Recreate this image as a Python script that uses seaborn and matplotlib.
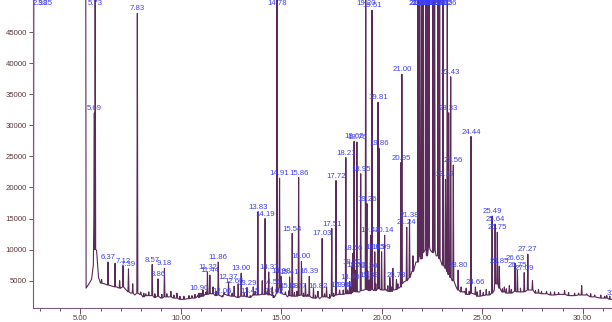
import matplotlib
matplotlib.use("Agg")
import matplotlib.pyplot as plt
import matplotlib.ticker as mticker
import seaborn as sns
import pandas as pd

# ---------------- data ----------------
# labelled peaks: retention time (min), apex abundance, abundance at the foot
peak_t = [2.98, 3.25, 5.69, 5.73, 6.37, 7.12, 7.39, 7.83, 8.57, 8.86, 9.18,
          10.90, 11.32, 11.44, 11.86, 12.06, 12.37, 12.65, 13.00, 13.29, 13.45,
          13.83, 14.19, 14.37, 14.55, 14.62, 14.78, 14.91, 14.98, 15.38, 15.41,
          15.54, 15.77, 15.86, 16.00, 16.39, 16.82, 17.03, 17.51, 17.72, 17.90,
          18.08, 18.21, 18.40, 18.50, 18.56, 18.62, 18.70, 18.76, 18.95, 19.20,
          19.26, 19.30, 19.38, 19.44, 19.51, 19.65, 19.81, 19.86, 19.99, 20.14,
          20.73, 20.95, 21.00, 21.24, 21.38, 21.80, 21.88, 21.97, 22.05, 22.18,
          22.25, 22.35, 22.55, 22.63, 22.80, 22.88, 23.05, 23.17, 23.26, 23.33,
          23.43, 23.56, 23.80, 24.44, 24.66, 25.49, 25.64, 25.75, 25.85, 26.63,
          26.75, 27.09, 27.27, 31.68]
peak_h = [60000, 60000, 32000, 60000, 8000, 7400, 6900, 48000, 7600, 5300, 7000,
          3000, 6400, 5900, 8000, 2600, 4800, 4100, 6200, 3900, 2600,
          16000, 15000, 6400, 4000, 2600, 60000, 21500, 5700, 3400, 5600,
          12600, 3300, 21600, 8100, 5700, 3300, 11800, 13400, 21100, 3500,
          3500, 24800, 4850, 7250, 9400, 27400, 6700, 27300, 22200, 60000,
          17400, 6550, 5100, 12300, 48500, 9650, 33700, 26300, 9650, 12300,
          5200, 24000, 38200, 13600, 14800, 60000, 60000, 60000, 60000, 60000,
          60000, 60000, 60000, 60000, 60000, 60000, 60000, 21300, 60000, 32000,
          37800, 23600, 6700, 28200, 4000, 15400, 14100, 12800, 7350, 7800,
          6700, 6300, 9250, 2200]
peak_base = [60000, 60000, 15000, 10000, 4300, 4000, 3200, 3000, 2600, 2500, 2400,
             2300, 2800, 2900, 2700, 2400, 2600, 2500, 2500, 2400, 2300,
             2700, 2800, 2700, 2600, 2300, 3000, 4000, 3000, 2600, 2600,
             2500, 2500, 2600, 2700, 2500, 2400, 2400, 2600, 2700, 2800,
             2800, 2900, 3000, 3100, 3200, 3300, 3200, 3200, 3400, 3600,
             3600, 3500, 3400, 3500, 3600, 3600, 3700, 3700, 3500, 3500,
             3600, 4000, 4500, 5000, 5500, 8000, 9000, 8500, 9500, 10000,
             9000, 10500, 9500, 10000, 9000, 8500, 7500, 7000, 6500, 6000,
             5500, 5000, 3500, 3000, 2800, 3000, 4500, 4500, 3800, 3300,
             3200, 3200, 3500, 2000]

# unlabelled minor peaks
minor_t = [6.05, 6.72, 6.95, 7.60, 8.00, 8.15, 8.25, 8.40, 8.70, 9.05, 9.30,
           9.50, 9.65, 9.80, 9.95, 10.15, 10.40, 10.55, 10.70, 10.85, 11.00,
           11.10, 11.25, 11.60, 11.75, 12.15, 12.55, 12.85, 13.15, 13.60, 13.70,
           14.05, 14.30, 15.20, 15.65, 16.10, 16.20, 16.30, 16.60, 16.70, 17.15,
           17.25, 17.40, 17.60, 18.30, 18.45, 19.70, 20.30, 20.40, 20.50, 20.55,
           20.80, 21.55, 23.95, 24.10, 24.20, 24.35, 24.75, 24.90, 25.05, 25.20,
           25.35, 26.00, 26.10, 26.20, 26.35, 26.45, 26.90, 27.50, 27.65, 27.80,
           27.95, 28.20, 28.40, 28.60, 28.80, 29.10, 29.30, 29.60, 29.80, 29.95,
           30.20, 30.40, 30.60, 30.90, 31.10, 31.20, 31.35]
minor_h = [5200, 7800, 5000, 4500, 3200, 3000, 2900, 3200, 2900, 2800, 2900,
           3300, 2700, 3000, 2500, 2500, 2600, 2600, 2800, 2700, 3000,
           3500, 3200, 4000, 3300, 3100, 3000, 4500, 3000, 4000, 3300,
           5000, 3300, 3200, 3100, 3000, 4500, 2800, 3800, 2700, 2900,
           4000, 2800, 3000, 3500, 4000, 4500, 4200, 5500, 4000, 7000,
           4500, 9000, 4000, 3300, 3800, 3300, 3200, 3500, 3100, 3600,
           3300, 3700, 4000, 3700, 4200, 3600, 3800, 5000, 3400, 3600,
           3300, 3300, 3200, 3200, 3100, 3400, 3100, 3000, 3000, 4200,
           2900, 2900, 2700, 2700, 2500, 2600, 2500]

# baseline / envelope of the trace
base_t = [2.66, 2.68, 5.26, 5.28, 5.40, 5.55, 5.64, 5.80, 5.90, 6.00, 6.20, 6.50,
          6.80, 7.00, 7.25, 7.50, 7.70, 7.95, 8.10, 8.30, 8.70, 9.00, 9.40, 9.70,
          10.00, 10.30, 10.60, 11.00, 11.20, 11.50, 11.70, 12.00, 12.20, 12.50,
          12.80, 13.20, 13.60, 14.00, 14.40, 14.70, 15.10, 15.30, 15.70, 16.10,
          16.50, 16.70, 16.90, 17.20, 17.40, 17.60, 17.85, 18.10, 18.35, 18.90,
          19.10, 19.60, 20.20, 20.40, 20.60, 20.85, 21.10, 21.50, 21.70, 22.00,
          22.40, 22.70, 23.00, 23.50, 23.70, 24.00, 24.30, 24.55, 24.80, 25.00,
          25.30, 25.60, 26.00, 26.30, 26.90, 27.40, 27.70, 28.00, 28.50, 29.00,
          29.50, 30.00, 30.50, 31.00, 31.55]
base_y = [8800, 60000, 60000, 3800, 4400, 5200, 7500, 9900, 5500, 4600, 4500, 4200,
          4000, 3800, 3600, 3000, 2700, 2800, 2400, 2600, 2300, 2200, 2400, 2200,
          2000, 2100, 2200, 2500, 2800, 2900, 2600, 2500, 2800, 2500,
          2300, 2500, 2700, 2800, 2900, 2600, 2800, 2400, 2500, 2500,
          2300, 2200, 2100, 2400, 2200, 2500, 2800, 3000, 2900, 3200,
          3500, 3400, 3600, 3300, 3500, 3800, 4800, 6500, 8000, 9000,
          10000, 9000, 7500, 5000, 4000, 3200, 2800, 2900, 2500, 2600,
          2700, 3500, 3200, 3000, 3200, 3500, 3000, 2900, 2700, 2800,
          2600, 2700, 2400, 2200, 2000]

x_ticks = [5, 10, 15, 20, 25, 30]
y_ticks = [5000, 10000, 15000, 20000, 25000, 30000, 35000, 40000, 45000]

# ---------------- build the trace ----------------
HW = 0.025


def nearest_base(t):
    i = min(range(len(base_t)), key=lambda k: abs(base_t[k] - t))
    return base_y[i]


pts = list(zip(base_t, base_y))
for t, h, b in zip(peak_t, peak_h, peak_base):
    pts += [(t - HW, b), (t, h), (t + HW, b)]
for t, h in zip(minor_t, minor_h):
    b = min(nearest_base(t), h)
    pts += [(t - HW, b), (t, h), (t + HW, b)]

pts.sort(key=lambda p: p[0])
df = pd.DataFrame(pts, columns=["time", "abundance"])

# ---------------- plot ----------------
sns.set_style("white")
plt.rcParams["font.family"] = ["Liberation Sans", "DejaVu Sans"]

fig = plt.figure(figsize=(6.12, 3.22), dpi=100)
ax = fig.add_axes([33 / 612, 14.3 / 322, 579 / 612, 307.7 / 322])

trace_col = "#5a2a58"
sns.lineplot(data=df, x="time", y="abundance", sort=False, estimator=None,
             color=trace_col, lw=0.8, ax=ax)

label_col = "#4040f8"
for t, h in zip(peak_t, peak_h):
    ax.text(t, min(h, 48800) + 150, f"{t:.2f}", ha="center", va="bottom",
            fontsize=5.6, color=label_col, clip_on=False)

ax.set_xlim(2.636, 31.46)
ax.set_ylim(657, 50147)
ax.set_xlabel("")
ax.set_ylabel("")

ax.xaxis.set_major_locator(mticker.FixedLocator(x_ticks))
ax.xaxis.set_minor_locator(mticker.MultipleLocator(1))
ax.xaxis.set_major_formatter(mticker.FormatStrFormatter("%.2f"))
ax.yaxis.set_major_locator(mticker.FixedLocator(y_ticks))
ax.yaxis.set_major_formatter(mticker.FormatStrFormatter("%d"))

tick_col = "#5a3a3a"
ax.tick_params(axis="x", which="major", direction="out", length=4, width=0.6,
               colors=tick_col, labelsize=5.6, pad=1.5, bottom=True)
ax.tick_params(axis="x", which="minor", direction="out", length=2.5, width=0.6,
               colors=tick_col, bottom=True)
ax.tick_params(axis="y", which="major", direction="out", length=3, width=0.6,
               colors=tick_col, labelsize=5.6, pad=1.5, left=True)

for s in ["top", "right"]:
    ax.spines[s].set_visible(False)
for s in ["left", "bottom"]:
    ax.spines[s].set_color("#7a5a7a")
    ax.spines[s].set_linewidth(0.8)

fig.savefig("out.png", dpi=100)
